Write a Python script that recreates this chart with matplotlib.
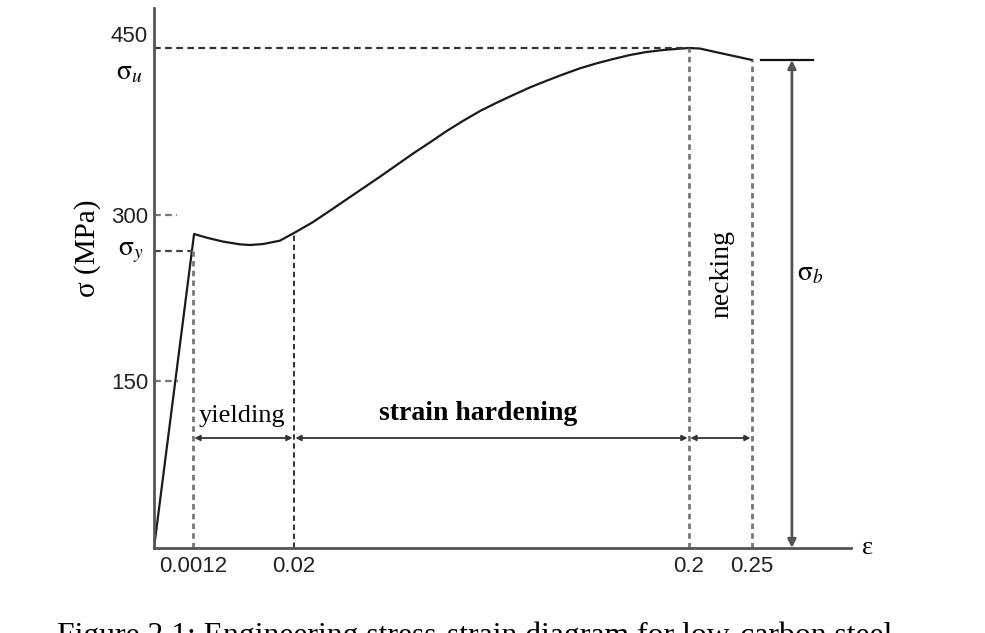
import numpy as np
import matplotlib
matplotlib.use('Agg')
import matplotlib.pyplot as plt

plt.rcParams['font.family'] = ['Liberation Serif', 'DejaVu Serif']
plt.rcParams['mathtext.fontset'] = 'stix'

### Data (schematic stress-strain curve)
strain = [0.0, 0.0014, 0.00375, 0.00684, 0.00994, 0.0118, 0.01428, 0.01738, 0.0200,
          0.0288, 0.0364, 0.0440, 0.0516, 0.0592, 0.0668, 0.0744, 0.0820,
          0.0896, 0.0972, 0.1048, 0.1124, 0.1199, 0.1276, 0.1352, 0.1427,
          0.1503, 0.1579, 0.1655, 0.1731, 0.1807, 0.1883, 0.1959, 0.2000,
          0.2087, 0.2246, 0.2380, 0.2500]
stress = [0.0, 282.6, 279.3, 275.7, 273.3, 272.7, 273.6, 276.6, 283.5,
          293.5, 303.6, 313.8, 324.0, 334.2, 344.7, 355.2, 365.1,
          375.3, 384.6, 393.3, 400.8, 407.7, 414.6, 420.6, 426.3,
          431.7, 436.2, 440.1, 443.7, 446.4, 448.2, 449.4, 450.0,
          449.5, 445.5, 442.2, 439.2]

x_ticks = [0.0012, 0.02, 0.2, 0.25]
x_tick_labels = ['0.0012', '0.02', '0.2', '0.25']
y_ticks = [150, 300]
y_tick_labels = ['150', '300']

sigma_y = 267.0      # yield stress marker
sigma_u = 450.0      # ultimate stress
sigma_b = 439.2      # breaking stress
eps_y, eps_h, eps_u, eps_b = 0.0012, 0.02, 0.2, 0.25

regions = ['yielding', 'strain hardening', 'necking']

### Piecewise x scale (the strain axis is not drawn to scale)
knot_strain = [0.0, 0.0012, 0.02, 0.2, 0.25, 0.40]
knot_pos    = [0.0, 39.0, 140.0, 535.0, 598.0, 787.0]

def fwd(x):
    return np.interp(x, knot_strain, knot_pos)

def inv(p):
    return np.interp(p, knot_pos, knot_strain)

### Figure
W, H = 985, 633
fig = plt.figure(figsize=(W/100, H/100), dpi=100)
ax = fig.add_axes([154/W, (H-548)/H, (851-154)/W, (548-8)/H])
ax.set_xscale('function', functions=(fwd, inv))
ax.set_xlim(0, 0.3286)
ax.set_ylim(0, 486)

for s in ['top', 'right']:
    ax.spines[s].set_visible(False)
for s in ['left', 'bottom']:
    ax.spines[s].set_color('#555555')
    ax.spines[s].set_linewidth(2)

ax.set_xticks(x_ticks, x_tick_labels, fontfamily='Liberation Sans', fontsize=16)
ax.set_yticks(y_ticks, y_tick_labels, fontfamily='Liberation Sans', fontsize=16)
ax.xaxis.set_minor_locator(matplotlib.ticker.NullLocator())
ax.tick_params(axis='x', length=0, pad=6, labelcolor='#222222')
ax.tick_params(axis='y', length=0, pad=4, labelcolor='#222222')

## curve
ax.plot(strain, stress, color='#1a1a1a', lw=1.6, solid_joinstyle='round')

## dashed guide lines
dash = dict(ls=(0, (3, 2)), lw=1.6)
ax.plot([0, eps_u], [sigma_u, sigma_u], color='#333333', **dash)
ax.plot([0, eps_y], [sigma_y, sigma_y], color='#444444', **dash)
ax.plot([0, 0.0007], [300, 300], color='#777777', **dash)
ax.plot([0, 0.00074], [150, 150], color='#777777', **dash)
ax.plot([eps_y, eps_y], [0, sigma_y], color='#777777', ls=(0, (2, 1.5)), lw=2)
ax.plot([eps_h, eps_h], [0, stress[8]], color='#222222', ls=(0, (3, 2)), lw=1.3)
ax.plot([eps_u, eps_u], [0, sigma_u], color='#777777', ls=(0, (2, 1.5)), lw=2)
ax.plot([eps_b, eps_b], [0, sigma_b], color='#777777', ls=(0, (2, 1.5)), lw=2)

## region arrows
arr = dict(arrowstyle='<|-|>', color='#333333', lw=1.3,
           shrinkA=1, shrinkB=1, mutation_scale=8)
for a, b in [(eps_y, eps_h), (eps_h, eps_u), (eps_u, eps_b)]:
    ax.annotate('', xy=(b, 99), xytext=(a, 99), arrowprops=arr)

ax.text(0.0103, 113.4, regions[0], fontsize=19, ha='center', va='baseline')
ax.text(0.1039, 115.0, regions[1], fontsize=20, fontweight='bold',
        ha='center', va='baseline')
ax.text(0.2262, 247, regions[2], fontsize=20, rotation=90,
        ha='center', va='center')

## breaking stress arrow
ax.annotate('', xy=(0.2817, sigma_b), xytext=(0.2817, 0),
            arrowprops=dict(arrowstyle='<|-|>', color='#555555', lw=2,
                            shrinkA=0, shrinkB=0, mutation_scale=12))
ax.plot([0.2571, 0.2984], [sigma_b, sigma_b], color='#111111', lw=1.6)
ax.text(0.2962, 247, r'$\mathrm{\sigma}_b$', fontsize=20, ha='center', va='center')

## stress labels next to the axis
yt = ax.get_yaxis_transform()
ax.text(-0.009, 460, '450', transform=yt, fontfamily='Liberation Sans',
        fontsize=16, ha='right', va='center', color='#222222')
ax.text(-0.016, 428, r'$\mathrm{\sigma}_u$', transform=yt, fontsize=20,
        ha='right', va='center')
ax.text(-0.015, 266, r'$\mathrm{\sigma}_y$', transform=yt, fontsize=20,
        ha='right', va='center')

ax.set_ylabel('σ (MPa)', fontsize=21)
ax.yaxis.set_label_coords(-0.076, 0.556)

ax.text(0.3421, 0, 'ε', fontsize=19, ha='center', va='center', clip_on=False)

# caption sits partly below the bottom edge, as in the reference
fig.text(57/W, (H-644)/H, 'Figure 2.1: Engineering stress-strain diagram for low-carbon steel',
         fontsize=22.8, ha='left', va='baseline')

fig.savefig('out.png', dpi=100)
